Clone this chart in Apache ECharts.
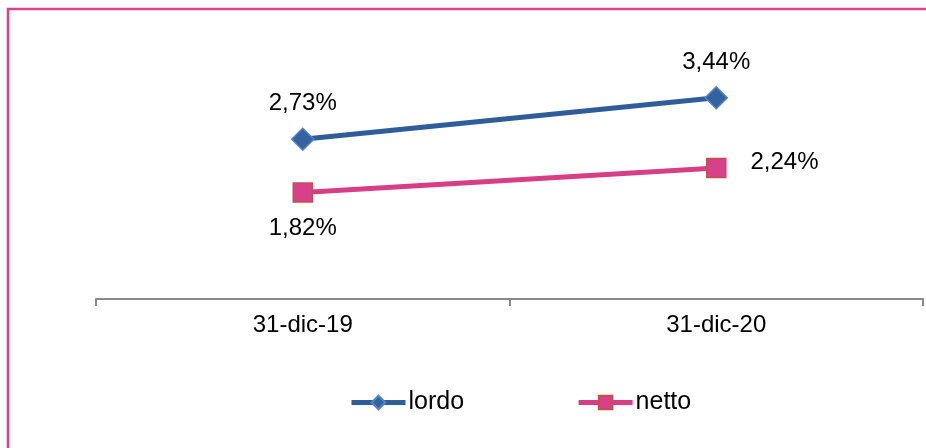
<!DOCTYPE html>
<html>
<head>
<meta charset="utf-8">
<script src="https://cdn.jsdelivr.net/npm/echarts@6/dist/echarts.min.js"></script>
<style>
  html, body { margin: 0; padding: 0; background: #fff; }
  #chart { width: 926px; height: 448px; }
</style>
</head>
<body>
<div id="chart"></div>
<script>
// Dates on the horizontal axis
const categories = ['31-dic-19', '31-dic-20'];
// Ratios in percent
const lordo = [2.73, 3.44];
const netto = [1.82, 2.24];
const seriesNames = ['lordo', 'netto'];

const FONT = '"Liberation Sans", Arial, sans-serif';
const fmt = v => v.toFixed(2).replace('.', ',') + '%';

const chart = echarts.init(document.getElementById('chart'));
chart.setOption({
  animation: false,
  backgroundColor: '#ffffff',
  textStyle: { fontFamily: FONT },
  graphic: [{
    type: 'rect',
    shape: { x: 8, y: 9, width: 960, height: 480 },
    style: { fill: 'none', stroke: '#d9438b', lineWidth: 2.5 },
    silent: true
  }],
  grid: { left: 96, right: 3, top: 65, bottom: 149, containLabel: false },
  legend: {
    left: 344,
    top: 385,
    itemWidth: 54,
    itemHeight: 17,
    itemGap: 112,
    textStyle: { fontFamily: FONT, fontSize: 25, color: '#000', padding: [0, 0, 0, -2] },
    lineStyle: { width: 5 },
    data: seriesNames
  },
  xAxis: {
    type: 'category',
    data: categories,
    boundaryGap: true,
    axisLine: { show: true, lineStyle: { color: '#898989', width: 2 } },
    axisTick: { show: true, length: 7, lineStyle: { color: '#898989', width: 2 } },
    axisLabel: { fontFamily: FONT, fontSize: 24, color: '#000', margin: 14 },
    splitLine: { show: false }
  },
  yAxis: {
    type: 'value',
    min: 0,
    max: 4,
    show: false,
    splitLine: { show: false }
  },
  series: [
    {
      name: seriesNames[0],
      type: 'line',
      data: lordo,
      symbol: 'diamond',
      symbolSize: 22,
      lineStyle: { color: '#2f5d98', width: 5 },
      itemStyle: { color: '#3462a0', borderColor: '#5283c2', borderWidth: 1.5 },
      label: {
        show: true,
        position: 'top',
        distance: 12,
        fontFamily: FONT,
        fontSize: 24,
        color: '#000',
        formatter: p => fmt(p.value)
      }
    },
    {
      name: seriesNames[1],
      type: 'line',
      data: netto.map((v, i) => i === 0
        ? { value: v, label: { position: 'bottom', distance: 14 } }
        : { value: v, label: { position: 'right', distance: 24, offset: [0, -6] } }),
      symbol: 'rect',
      symbolSize: 19,
      lineStyle: { color: '#d63f85', width: 5 },
      itemStyle: { color: '#d6418a', borderColor: '#c0504d', borderWidth: 1.5 },
      label: {
        show: true,
        fontFamily: FONT,
        fontSize: 24,
        color: '#000',
        formatter: p => fmt(p.value)
      }
    }
  ]
});
</script>
</body>
</html>
